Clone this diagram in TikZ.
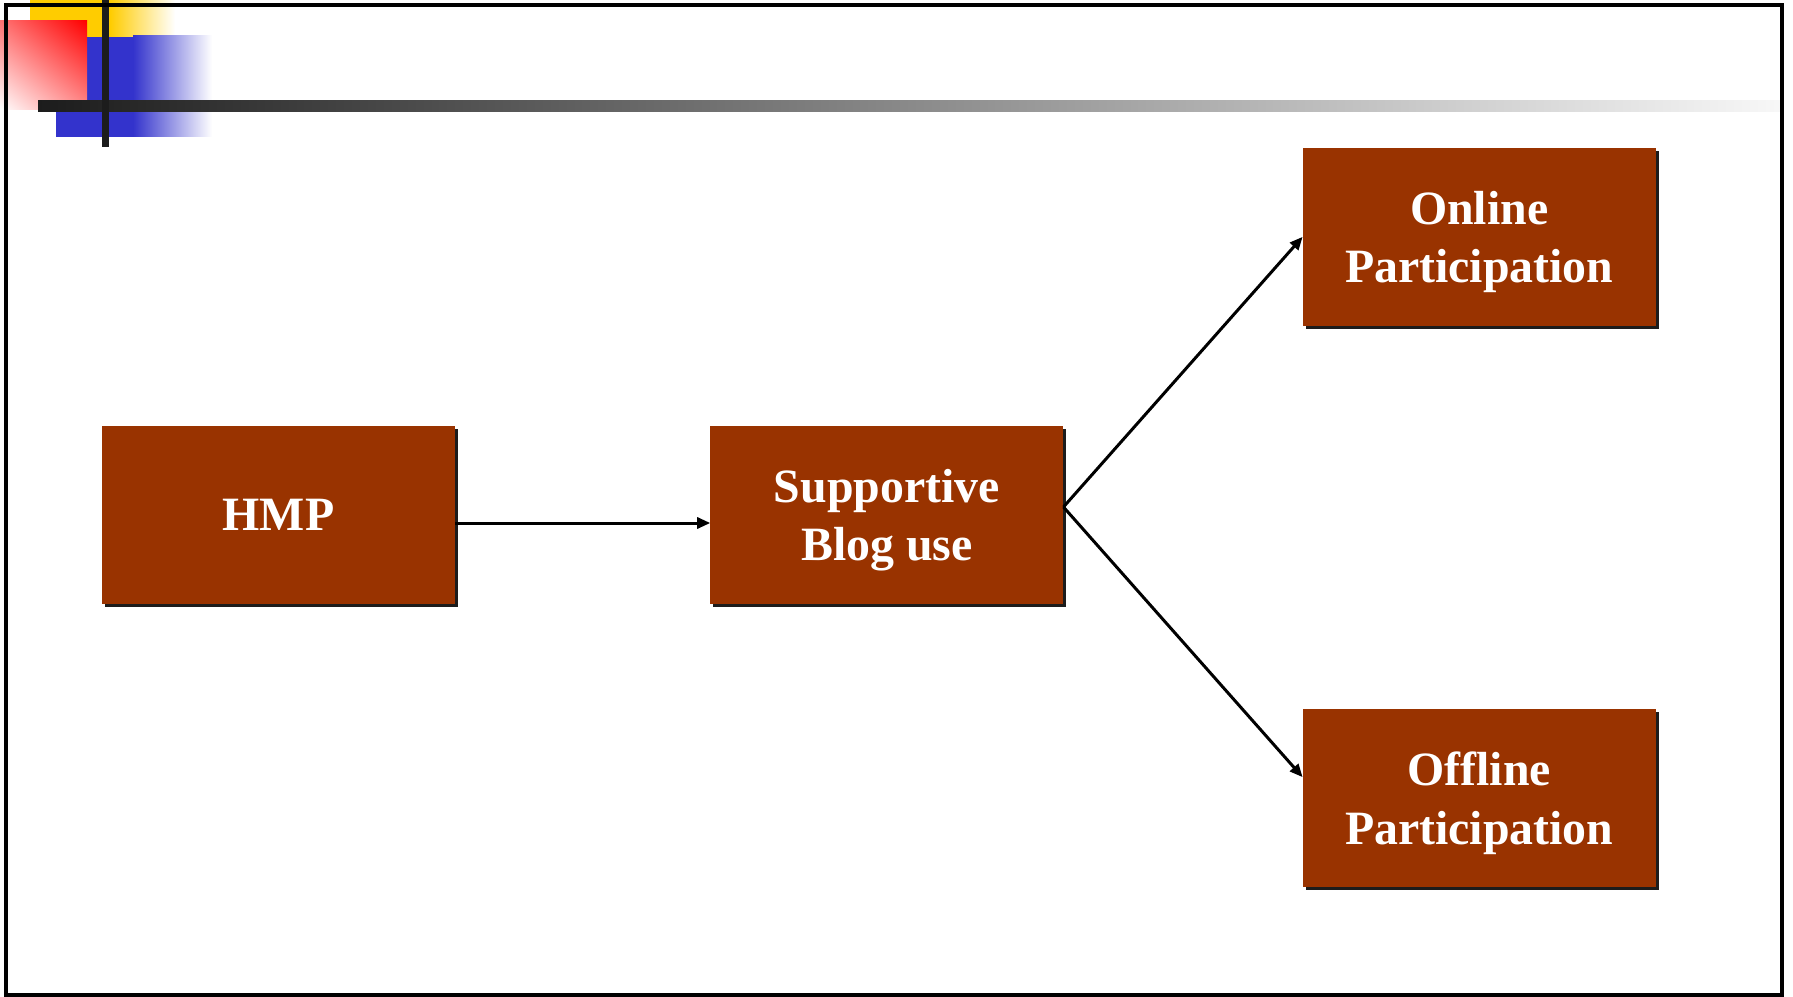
\documentclass[tikz,border=0pt]{standalone}
\usepackage{fontspec}
\setmainfont{Liberation Serif}
\usetikzlibrary{positioning,shadows,shadings,arrows.meta}
\definecolor{brique}{RGB}{153,51,0}
\definecolor{barre}{RGB}{28,28,28}
\definecolor{jaune}{RGB}{255,204,0}
\definecolor{bleu}{RGB}{51,51,204}

\begin{document}
\begin{tikzpicture}[x=0.01cm,y=-0.01cm]

\tikzset{boite/.style={fill=brique,text=white,font=\fontsize{13.6}{16.5}\selectfont\bfseries,align=center,
	minimum width=3.53cm,minimum height=1.78cm,inner sep=0pt,outer sep=0pt,text depth=0pt,
	drop shadow={shadow xshift=0.03cm,shadow yshift=-0.03cm,fill=barre,opacity=1}}} %style des boites
\tikzset{fleche/.style={line width=0.85pt,-{Triangle[length=0.13cm,width=0.11cm]}}} %style des fleches

	\useasboundingbox (0,0) rectangle (1793,997);

	%----------decor en haut a gauche------------
	\fill[jaune] (30,0) rectangle (110,37);
	\shade[left color=jaune,right color=white] (110,0) rectangle (175,37);
	\fill[bleu] (56,37) rectangle (133,137);
	\shade[left color=bleu,right color=white] (133,36) rectangle (212,137);
	\shade[upper right=red,lower left=white,upper left=red!55!white,lower right=red!45!white] (0,21) rectangle (87,110);
	\shade[left color=barre,right color=black!3] (38,101) rectangle (1780,112);
	\fill[barre] (102,0) rectangle (109,147);

	%cadre
	\draw[line width=0.04cm] (6,5) rectangle (1782,995);

	%----------boites------------
	\node[boite] (hmp) at (278.5,515) {HMP};
	\node[boite, right=2.55cm of hmp] (blog) {Supportive\\Blog use};
	\node[boite, above right=1.0cm and 2.39cm of blog] (online) {Online\\Participation};
	\node[boite, below right=1.05cm and 2.39cm of blog] (offline) {Offline\\Participation};

	%----------fleches------------
	\draw[fleche] ([yshift=-0.08cm]hmp.east) -- ([yshift=-0.08cm]blog.west);
	\draw[fleche] ([yshift=0.08cm]blog.east) -- (online.west);
	\draw[fleche] ([yshift=0.08cm]blog.east) -- ([yshift=0.21cm]offline.west);

\end{tikzpicture}
\end{document}
